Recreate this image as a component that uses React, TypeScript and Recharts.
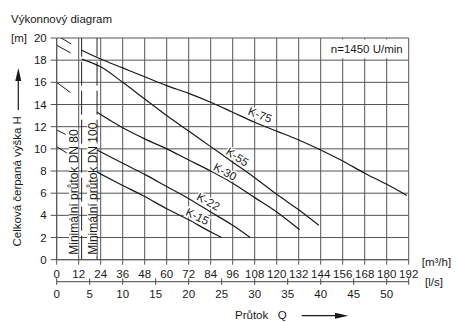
import React from "react";
import { ComposedChart, Line, Scatter, XAxis, YAxis, CartesianGrid } from "recharts";

const FONT = "'Liberation Sans', Arial, Helvetica, sans-serif";
const INK = "#1a1a1a";
const GRID = "#555";

// axes
const flowTicks = [0, 12, 24, 36, 48, 60, 72, 84, 96, 108, 120, 132, 144, 156, 168, 180, 192];
const flowMax = 192;
const litreMax = flowMax / 3.6;
const litreTicks = [0, 5, 10, 15, 20, 25, 30, 35, 40, 45, 50, litreMax];
const headTicks = [0, 2, 4, 6, 8, 10, 12, 14, 16, 18, 20];

// pump curves [Q m3/h, H m]
const k75: [number, number][] = [
  [13.6, 18.9], [24, 18.1], [36, 17.3], [48, 16.5], [60, 15.7], [72, 15.0], [84, 14.2], [96, 13.3],
  [108, 12.4], [120, 11.6], [132, 10.8], [144, 9.9], [156, 8.9], [168, 7.8], [180, 6.8], [191, 5.8],
];
const k55: [number, number][] = [
  [13.6, 18.1], [24, 17.4], [36, 16.0], [48, 14.5], [60, 13.0], [72, 11.6], [84, 10.2], [96, 8.8],
  [108, 7.4], [120, 5.9], [132, 4.5], [143, 3.1],
];
const k30: [number, number][] = [
  [22, 13.3], [36, 11.9], [48, 10.9], [60, 10.0], [72, 9.0], [84, 8.0], [96, 6.9], [108, 5.6],
  [120, 4.3], [132.5, 2.7],
];
const k22: [number, number][] = [
  [22, 9.9], [36, 8.7], [48, 7.7], [60, 6.6], [72, 5.5], [84, 4.3], [96, 3.1], [105.5, 2.0],
];
const k15: [number, number][] = [
  [22, 7.9], [36, 6.7], [48, 5.7], [60, 4.6], [72, 3.6], [84, 2.5], [90, 2.0],
];

// dashed parts below minimum flow
const k75Lead: [number, number][] = [[0, 20.25], [13.6, 18.9]];
const k55Lead: [number, number][] = [[0, 19.35], [13.6, 18.1]];
const k30Lead: [number, number][] = [[0, 16.0], [22, 13.3]];
const k22Lead: [number, number][] = [[0, 11.7], [22, 9.9]];
const k15Lead: [number, number][] = [[0, 10.2], [22, 7.9]];

// minimum flow
const minFlowDN80 = 13.6;
const minFlowDN100 = 22;

const curveLabels = [
  { text: "K-75", q: 110.9, h: 13.06, angle: 21 },
  { text: "K-55", q: 98.5, h: 9.27, angle: 33 },
  { text: "K-30", q: 91.8, h: 7.93, angle: 28 },
  { text: "K-22", q: 82.7, h: 5.24, angle: 29 },
  { text: "K-15", q: 76.7, h: 3.9, angle: 26 },
];
const minFlowNotes = [
  { text: "Minimální průtok DN 80", q: 9.43, h: 0.45 },
  { text: "Minimální průtok DN 100", q: 19.4, h: 0.45 },
];
const speedNote = [{ text: "n=1450 U/min", q: 168, h: 19.02 }];

const toPts = (arr: [number, number][]) => arr.map(([q, h]) => ({ q, h }));

const CurveLabel = (p: any) => {
  const { cx, cy, payload } = p;
  return (
    <text
      x={cx}
      y={cy}
      transform={`rotate(${payload.angle} ${cx} ${cy})`}
      textAnchor="middle"
      dominantBaseline="central"
      fontSize={11.5}
      fontFamily={FONT}
      fill={INK}
      stroke="#fff"
      strokeWidth={3}
      paintOrder="stroke"
    >
      {payload.text}
    </text>
  );
};

const MinFlowNote = (p: any) => {
  const { cx, cy, payload } = p;
  return (
    <g transform={`translate(${cx} ${cy}) rotate(-90)`}>
      <rect x={-1} y={-5} width={payload.text.length * 5.7 + 2} height={9.3} fill="#fff" />
      <text x={0} y={4.3} fontSize={12} fontFamily={FONT} fill={INK}>
        {payload.text}
      </text>
    </g>
  );
};

const SpeedNote = (p: any) => {
  const { cx, cy, payload } = p;
  return (
    <g>
      <rect x={cx - 43} y={cy - 9.4} width={86} height={18.8} fill="#fff" />
      <text x={cx + 38} y={cy} dominantBaseline="central" textAnchor="end" fontSize={11.5} fontFamily={FONT} fill={INK}>
        {payload.text}
      </text>
    </g>
  );
};

const LitreTick = (p: any) => {
  const { x, y, payload } = p;
  const axisY = y - 8;
  const v = payload.value;
  const labelled = Math.abs(v % 5) < 1e-6;
  return (
    <g>
      <line x1={x} x2={x} y1={axisY - 3.3} y2={axisY} stroke="#444" />
      {labelled && (
        <text x={x} y={y} dy="0.71em" textAnchor="middle" fontSize={11.5} fontFamily={FONT} fill={INK}>
          {v}
        </text>
      )}
    </g>
  );
};

const tickStyle = { fill: INK, fontSize: 11.5, fontFamily: FONT };

export default function App() {
  const solid = [k75, k55, k30, k22, k15];
  const leads: [[number, number][], string][] = [
    [k75Lead, "17 300"],
    [k55Lead, "16 300"],
    [k30Lead, "17 300"],
    [k22Lead, "10 300"],
    [k15Lead, "12 300"],
  ];
  return (
    <div style={{ position: "absolute", left: 0, top: 0, width: 457, height: 322, background: "#fff" }}>
      <ComposedChart width={457} height={322} margin={{ top: 38, right: 48.3, bottom: 10.3, left: 0.7 }}>
        <CartesianGrid stroke={GRID} strokeWidth={1} />
        <XAxis
          dataKey="q"
          type="number"
          domain={[0, flowMax]}
          ticks={flowTicks}
          interval={0}
          allowDataOverflow
          height={22}
          tickSize={5}
          tickMargin={5}
          stroke={GRID}
          tick={tickStyle}
        />
        <XAxis
          xAxisId="ls"
          dataKey="l"
          type="number"
          domain={[0, litreMax]}
          ticks={litreTicks}
          interval={0}
          allowDataOverflow
          height={30}
          tickSize={3}
          tickMargin={5}
          stroke="#444"
          tick={<LitreTick />}
        />
        <YAxis
          dataKey="h"
          type="number"
          domain={[0, 20]}
          ticks={headTicks}
          interval={0}
          allowDataOverflow
          width={56}
          tickSize={6}
          tickMargin={4}
          stroke={GRID}
          tick={tickStyle}
        />
        {/* l/s scale: same flow, second unit */}
        <Line
          xAxisId="ls"
          data={[{ l: 0, h: null }, { l: litreMax, h: null }]}
          dataKey="h"
          stroke="none"
          dot={false}
          activeDot={false}
          isAnimationActive={false}
        />
        {leads.map(([arr, dash], i) => (
          <Line
            key={"lead" + i}
            data={toPts(arr)}
            dataKey="h"
            type="linear"
            stroke={INK}
            strokeWidth={1}
            strokeDasharray={dash}
            dot={false}
            activeDot={false}
            isAnimationActive={false}
          />
        ))}
        {[minFlowDN80, minFlowDN100].map((q, i) => (
          <Line
            key={"min" + i}
            data={[{ q, h: 0 }, { q, h: 20 }]}
            dataKey="h"
            type="linear"
            stroke="#222"
            strokeWidth={1}
            strokeDasharray="24 5"
            dot={false}
            activeDot={false}
            isAnimationActive={false}
          />
        ))}
        {solid.map((arr, i) => (
          <Line
            key={"k" + i}
            data={toPts(arr)}
            dataKey="h"
            type="monotone"
            stroke={INK}
            strokeWidth={1.2}
            dot={false}
            activeDot={false}
            isAnimationActive={false}
          />
        ))}
        <Scatter data={minFlowNotes} dataKey="h" shape={MinFlowNote} isAnimationActive={false} />
        <Scatter data={speedNote} dataKey="h" shape={SpeedNote} isAnimationActive={false} />
        <Scatter data={curveLabels} dataKey="h" shape={CurveLabel} isAnimationActive={false} />
      </ComposedChart>
      <svg
        width={457}
        height={322}
        style={{ position: "absolute", left: 0, top: 0, pointerEvents: "none" }}
        fontFamily={FONT}
        fontSize={11.5}
        fill={INK}
      >
        <text x={11} y={23}>Výkonnový diagram</text>
        <text x={11} y={41.5}>[m]</text>
        <text transform="translate(21.3 246.5) rotate(-90)" x={0} y={0}>
          Celková čerpaná výška H
        </text>
        <line x1={18.3} x2={18.3} y1={110} y2={78} stroke={INK} strokeWidth={1.2} />
        <polygon points="18.3,68 15.3,81 21.3,81" fill={INK} />
        <text x={421.7} y={266}>[m³/h]</text>
        <text x={425} y={286}>[l/s]</text>
        <text x={235} y={318.7}>Průtok</text>
        <text x={277.8} y={318.7}>Q</text>
        <line x1={301.7} x2={337} y1={315.7} y2={315.7} stroke={INK} strokeWidth={1.2} />
        <polygon points="348.3,315.7 335,312.7 335,318.7" fill={INK} />
      </svg>
    </div>
  );
}
